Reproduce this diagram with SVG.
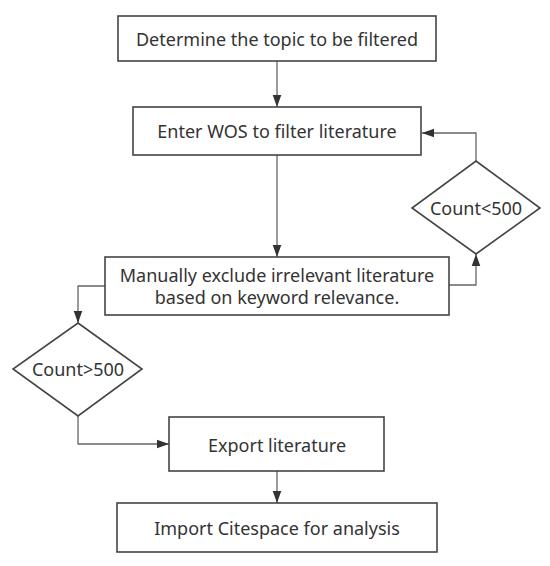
<svg xmlns="http://www.w3.org/2000/svg" width="550" height="566" viewBox="0 0 550 566">
<style>
.box{fill:#fff;stroke:#444;stroke-width:1.6}
.lbl{font-family:"Noto Sans","Open Sans","Liberation Sans",sans-serif;font-size:18px;fill:#333;text-anchor:middle;dominant-baseline:central}
.con{fill:none;stroke:#666;stroke-width:1.3;marker-end:url(#ah)}
</style>
<defs>
<marker id="ah" markerUnits="userSpaceOnUse" markerWidth="12" markerHeight="14" viewBox="0 0 14 12" refX="14" refY="6" orient="auto">
<path d="M0,1 L14,6 L0,11 Z" fill="#333"/>
</marker>
</defs>
<rect width="550" height="566" fill="#fff"/>
<g id="connectors">
<path class="con" d="M277,61 V107"/>
<path class="con" d="M277,155 V257"/>
<path class="con" d="M449,285 H476 V254"/>
<path class="con" d="M476,161 V133 H422"/>
<path class="con" d="M105,286 H78 V323"/>
<path class="con" d="M78,416 V444 H169"/>
<path class="con" d="M277,471 V503"/>
</g>
<g id="n1"><rect class="box" x="118" y="16" width="318" height="45"/><text class="lbl" x="277" y="39">Determine the topic to be filtered</text></g>
<g id="n2"><rect class="box" x="133" y="107" width="288" height="48"/><text class="lbl" x="277" y="131">Enter WOS to filter literature</text></g>
<g id="n3"><rect class="box" x="105" y="257" width="344" height="58"/><text class="lbl" x="277" y="275">Manually exclude irrelevant literature</text><text class="lbl" x="277" y="297">based on keyword relevance.</text></g>
<g id="d1"><polygon class="box" points="476,161 540,208 476,254 412,208"/><text class="lbl" x="476" y="208">Count&lt;500</text></g>
<g id="d2"><polygon class="box" points="78,323 142,369 78,416 13,369"/><text class="lbl" x="78" y="369">Count&gt;500</text></g>
<g id="n4"><rect class="box" x="169" y="417" width="215" height="54"/><text class="lbl" x="277" y="445">Export literature</text></g>
<g id="n5"><rect class="box" x="117" y="503" width="320" height="49"/><text class="lbl" x="277" y="528">Import Citespace for analysis</text></g>
</svg>
